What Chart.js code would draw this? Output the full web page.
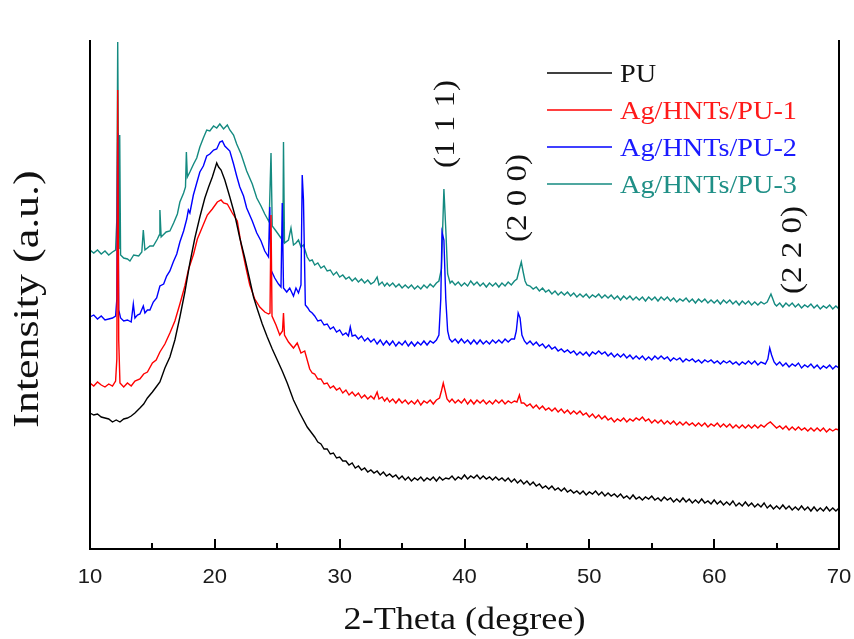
<!DOCTYPE html>
<html>
<head>
<meta charset="utf-8">
<script src="https://cdn.jsdelivr.net/npm/chart.js@4.4.1/dist/chart.umd.min.js"></script>
<style>
  html, body { margin: 0; padding: 0; background: #fff; }
</style>
</head>
<body>
<canvas id="xrd" width="854" height="639"></canvas>
<script>
// 2-theta / intensity (a.u.) pairs
const puData = [[10.0,136],[10.3,134],[10.6,135],[10.9,132],[11.2,131],[11.5,130],[11.8,127],[12.1,129],[12.4,127],[12.7,130],
  [13.0,131],[13.3,133],[13.6,136],[14.0,141],[14.3,145],[14.6,151],[15.0,157],[15.3,162],[15.6,167],[16.0,181],
  [16.4,192],[16.8,209],[17.2,232],[17.6,257],[18.0,286],[18.4,311],[18.8,332],[19.2,351],[19.5,362],[19.8,372],
  [20.0,380],[20.15,386],[20.3,382],[20.5,379],[20.8,369],[21.2,352],[21.6,334],[22.0,311],[22.4,291],[22.8,269],
  [23.1,252],[23.4,240],[23.8,225],[24.2,212],[24.6,200],[25.0,189],[25.4,178],[25.8,166],[26.3,149],[26.8,136],
  [27.4,122],[27.7,117],[28.0,112],[28.25,107],[28.5,105],[28.75,100],[29.0,100],[29.25,95],[29.5,96],[29.75,91],
  [30.0,92],[30.25,88],[30.5,88],[30.75,84],[31.0,86],[31.25,81],[31.5,83],[31.75,79],[32.0,81],[32.25,77],
  [32.5,79],[32.75,76],[33.0,78],[33.25,74],[33.5,77],[33.75,73],[34.0,75],[34.25,72],[34.5,74],[34.75,70],
  [35.0,73],[35.25,69],[35.5,72],[35.75,68],[36.0,71],[36.25,69],[36.5,72],[36.75,68],[37.0,71],[37.25,69],
  [37.5,72],[37.75,68],[38.0,72],[38.25,69],[38.5,71],[38.75,70],[39.0,73],[39.25,69],[39.5,72],[39.75,70],
  [40.0,74],[40.25,70],[40.5,73],[40.75,71],[41.0,74],[41.25,70],[41.5,73],[41.75,70],[42.0,72],[42.25,69],
  [42.5,72],[42.75,69],[43.0,71],[43.25,68],[43.5,71],[43.75,67],[44.0,70],[44.25,66],[44.5,69],[44.75,65],
  [45.0,68],[45.25,64],[45.5,67],[45.75,63],[46.0,65],[46.25,61],[46.5,63],[46.75,60],[47.0,63],[47.25,59],
  [47.5,61],[47.75,58],[48.0,61],[48.25,57],[48.5,59],[48.75,56],[49.0,58],[49.25,55],[49.5,58],[49.75,54],
  [50.0,57],[50.25,55],[50.5,58],[50.75,54],[51.0,57],[51.25,53],[51.5,56],[51.75,53],[52.0,55],[52.25,52],
  [52.5,55],[52.75,51],[53.0,53],[53.25,50],[53.5,54],[53.75,50],[54.0,52],[54.25,49],[54.5,52],[54.75,50],
  [55.0,53],[55.25,49],[55.5,51],[55.75,48],[56.0,52],[56.25,49],[56.5,51],[56.75,47],[57.0,50],[57.25,47],
  [57.5,51],[57.75,47],[58.0,50],[58.25,46],[58.5,49],[58.75,46],[59.0,50],[59.25,46],[59.5,48],[59.75,45],
  [60.0,49],[60.25,45],[60.5,48],[60.75,44],[61.0,47],[61.25,44],[61.5,48],[61.75,43],[62.0,46],[62.25,43],
  [62.5,47],[62.75,43],[63.0,46],[63.25,42],[63.5,45],[63.75,42],[64.0,46],[64.25,41],[64.5,44],[64.75,40],
  [65.0,43],[65.25,40],[65.5,44],[65.75,40],[66.0,43],[66.25,39],[66.5,42],[66.75,39],[67.0,43],[67.25,39],
  [67.5,42],[67.75,38],[68.0,42],[68.25,38],[68.5,41],[68.75,38],[69.0,42],[69.25,38],[69.5,41],[69.75,38],[70.0,41]];

const pu1Data = [[10.0,166],[10.3,163],[10.6,167],[10.9,164],[11.2,162],[11.5,165],[11.8,163],[12.05,168],[12.15,190],[12.22,459],
  [12.3,209],[12.4,166],[12.7,162],[13.0,166],[13.3,163],[13.6,168],[14.0,170],[14.3,175],[14.6,177],[15.0,186],
  [15.3,189],[15.6,197],[16.0,205],[16.4,216],[16.8,228],[17.2,245],[17.6,263],[17.9,280],[18.3,295],[18.6,310],
  [19.0,322],[19.4,334],[19.8,340],[20.2,347],[20.5,349],[20.7,346],[21.0,345],[21.4,336],[21.8,328],[22.1,305],
  [22.5,281],[22.8,264],[23.2,250],[23.6,242],[24.0,237],[24.3,235],[24.42,236],[24.5,334],[24.58,233],[24.9,224],
  [25.2,214],[25.42,218],[25.5,236],[25.58,214],[25.9,207],[26.3,201],[26.6,206],[26.9,196],[27.2,198],[27.6,180],
  [27.8,176],[28.0,175],[28.25,170],[28.5,170],[28.75,165],[29.0,166],[29.25,161],[29.5,163],[29.75,159],[30.0,161],
  [30.25,156],[30.5,159],[30.75,154],[31.0,157],[31.25,153],[31.5,156],[31.75,151],[32.0,154],[32.25,150],[32.5,153],
  [32.75,150],[33.0,157],[33.15,150],[33.4,152],[33.6,148],[33.8,151],[34.0,147],[34.25,150],[34.5,146],[34.75,150],
  [35.0,146],[35.25,149],[35.5,145],[35.75,148],[36.0,145],[36.25,149],[36.5,144],[36.75,148],[37.0,146],[37.25,149],
  [37.5,145],[37.75,149],[38.0,151],[38.15,158],[38.3,166],[38.45,158],[38.6,150],[38.8,147],[39.0,150],[39.25,146],
  [39.5,149],[39.75,146],[40.0,150],[40.25,145],[40.5,149],[40.75,145],[41.0,149],[41.25,146],[41.5,149],[41.75,145],
  [42.0,148],[42.25,145],[42.5,149],[42.75,146],[43.0,149],[43.25,145],[43.5,148],[43.75,146],[44.0,148],[44.2,147],
  [44.4,154],[44.55,146],[44.75,146],[45.0,143],[45.25,145],[45.5,141],[45.75,144],[46.0,140],[46.25,143],[46.5,139],
  [46.75,141],[47.0,138],[47.25,141],[47.5,137],[47.75,140],[48.0,136],[48.25,139],[48.5,135],[48.75,138],[49.0,135],
  [49.25,138],[49.5,134],[49.75,136],[50.0,132],[50.25,135],[50.5,131],[50.75,134],[51.0,130],[51.25,133],[51.5,129],
  [51.75,131],[52.0,127],[52.25,130],[52.5,128],[52.75,131],[53.0,127],[53.25,130],[53.5,128],[53.75,131],[54.0,129],
  [54.25,132],[54.5,128],[54.75,130],[55.0,126],[55.25,129],[55.5,126],[55.75,129],[56.0,125],[56.25,128],[56.5,125],
  [56.75,128],[57.0,124],[57.25,127],[57.5,124],[57.75,127],[58.0,124],[58.25,126],[58.5,123],[58.75,126],[59.0,123],
  [59.25,126],[59.5,122],[59.75,125],[60.0,123],[60.25,126],[60.5,122],[60.75,125],[61.0,122],[61.25,125],[61.5,121],
  [61.75,124],[62.0,121],[62.25,124],[62.5,121],[62.75,124],[63.0,121],[63.25,124],[63.5,121],[63.75,124],[64.0,122],
  [64.25,125],[64.5,127],[64.75,124],[65.0,121],[65.25,123],[65.5,120],[65.75,123],[66.0,119],[66.25,122],[66.5,119],
  [66.75,122],[67.0,119],[67.25,121],[67.5,118],[67.75,121],[68.0,118],[68.25,121],[68.5,118],[68.75,121],[69.0,117],
  [69.25,120],[69.5,118],[69.75,120],[70.0,119]];

const pu2Data = [[10.0,232],[10.3,234],[10.6,230],[10.9,233],[11.2,229],[11.5,230],[11.8,231],[12.05,233],[12.15,250],[12.22,416],
  [12.3,239],[12.45,231],[12.7,228],[13.0,229],[13.3,227],[13.47,245],[13.6,231],[13.8,234],[14.0,235],[14.27,243],
  [14.4,236],[14.6,239],[14.8,239],[15.07,247],[15.34,251],[15.6,263],[15.9,265],[16.14,273],[16.4,278],[16.67,287],
  [16.95,295],[17.2,307],[17.5,318],[17.75,330],[17.88,339],[18.0,336],[18.28,354],[18.55,366],[18.8,377],[19.08,383],
  [19.35,393],[19.6,395],[19.9,399],[20.15,400],[20.4,407],[20.6,408],[20.8,403],[21.2,398],[21.5,385],[21.75,373],
  [22.0,362],[22.3,353],[22.55,341],[23.0,328],[23.36,316],[23.7,308],[24.0,298],[24.3,292],[24.4,342],[24.5,279],
  [24.8,271],[25.1,265],[25.3,262],[25.4,346],[25.5,261],[25.76,257],[26.0,261],[26.3,253],[26.5,261],[26.7,256],
  [26.9,264],[27.0,374],[27.1,349],[27.25,244],[27.45,241],[27.6,238],[27.8,236],[28.0,233],[28.25,228],[28.5,229],
  [28.75,224],[29.0,225],[29.25,220],[29.5,222],[29.75,217],[30.0,219],[30.25,214],[30.5,216],[30.7,213],[30.85,222],
  [31.0,213],[31.25,214],[31.5,210],[31.75,213],[32.0,208],[32.25,211],[32.5,207],[32.75,210],[33.0,205],[33.25,209],
  [33.5,204],[33.75,208],[34.0,204],[34.25,208],[34.5,203],[34.75,207],[35.0,204],[35.25,208],[35.5,203],[35.75,207],
  [36.0,203],[36.25,207],[36.5,204],[36.75,208],[37.0,204],[37.25,208],[37.5,206],[37.75,209],[37.95,214],[38.1,250],
  [38.2,317],[38.35,309],[38.5,250],[38.65,218],[38.8,210],[39.0,207],[39.25,210],[39.5,206],[39.75,210],[40.0,206],
  [40.25,209],[40.5,205],[40.75,209],[41.0,205],[41.25,209],[41.5,205],[41.75,208],[42.0,205],[42.25,209],[42.5,206],
  [42.75,209],[43.0,206],[43.25,210],[43.5,207],[43.75,210],[44.0,210],[44.15,218],[44.3,236],[44.45,231],[44.6,214],
  [44.8,208],[45.0,205],[45.25,208],[45.5,204],[45.75,207],[46.0,203],[46.25,205],[46.5,201],[46.75,204],[47.0,200],
  [47.25,202],[47.5,198],[47.75,200],[48.0,197],[48.25,199],[48.5,196],[48.75,198],[49.0,194],[49.25,197],[49.5,194],
  [49.75,197],[50.0,193],[50.25,197],[50.5,195],[50.75,198],[51.0,195],[51.25,197],[51.5,193],[51.75,196],[52.0,192],
  [52.25,195],[52.5,192],[52.75,195],[53.0,191],[53.25,194],[53.5,190],[53.75,193],[54.0,190],[54.25,193],[54.5,189],
  [54.75,192],[55.0,189],[55.25,193],[55.5,190],[55.75,193],[56.0,190],[56.25,192],[56.5,188],[56.75,191],[57.0,189],
  [57.25,191],[57.5,187],[57.75,190],[58.0,188],[58.25,190],[58.5,187],[58.75,189],[59.0,186],[59.25,189],[59.5,187],
  [59.75,189],[60.0,186],[60.25,188],[60.5,185],[60.75,188],[61.0,186],[61.25,188],[61.5,185],[61.75,187],[62.0,184],
  [62.25,187],[62.5,185],[62.75,188],[63.0,185],[63.25,188],[63.5,184],[63.75,187],[64.1,185],[64.3,190],[64.45,201],
  [64.6,194],[64.8,187],[65.0,184],[65.25,187],[65.5,183],[65.75,186],[66.0,182],[66.25,185],[66.5,183],[66.75,186],
  [67.0,181],[67.25,184],[67.5,182],[67.75,185],[68.0,181],[68.25,184],[68.5,180],[68.75,183],[69.0,181],[69.25,184],
  [69.5,180],[69.75,183],[70.0,181]];

const pu3Data = [[10.0,299],[10.3,296],[10.6,299],[10.9,295],[11.2,298],[11.5,294],[11.8,297],[12.05,299],[12.15,330],[12.22,507],
  [12.32,300],[12.38,414],[12.45,294],[12.7,291],[13.0,290],[13.2,288],[13.5,294],[13.9,293],[14.15,297],[14.27,319],
  [14.4,299],[14.8,303],[15.07,303],[15.4,310],[15.55,314],[15.6,339],[15.7,312],[16.1,317],[16.4,318],[16.7,326],
  [17.0,335],[17.2,347],[17.5,356],[17.65,362],[17.72,397],[17.8,372],[18.0,377],[18.3,385],[18.55,391],[18.8,402],
  [19.08,411],[19.35,419],[19.6,418],[19.9,423],[20.15,421],[20.4,425],[20.7,420],[21.0,424],[21.2,419],[21.5,414],
  [21.75,405],[22.1,395],[22.55,378],[23.0,365],[23.36,351],[23.7,343],[24.0,335],[24.35,327],[24.5,396],[24.6,323],
  [24.9,318],[25.3,311],[25.45,308],[25.5,407],[25.58,306],[25.9,309],[26.1,321],[26.3,304],[26.5,306],[26.7,309],
  [26.9,302],[27.1,304],[27.4,292],[27.6,288],[27.8,289],[28.0,284],[28.25,286],[28.5,281],[28.75,283],[29.0,278],
  [29.25,279],[29.5,274],[29.75,277],[30.0,272],[30.25,274],[30.5,270],[30.75,272],[31.0,268],[31.25,271],[31.5,267],
  [31.75,270],[32.0,266],[32.25,269],[32.5,265],[32.75,267],[33.0,272],[33.15,264],[33.4,267],[33.6,263],[33.8,266],
  [34.0,263],[34.25,266],[34.5,262],[34.75,265],[35.0,261],[35.25,264],[35.5,261],[35.75,264],[36.0,260],[36.25,263],
  [36.5,260],[36.75,264],[37.0,261],[37.25,265],[37.5,262],[37.75,266],[37.95,268],[38.15,280],[38.35,360],[38.5,320],
  [38.65,275],[38.85,266],[39.0,268],[39.25,264],[39.5,267],[39.75,263],[40.0,266],[40.25,263],[40.5,268],[40.75,264],
  [41.0,267],[41.25,263],[41.5,266],[41.75,262],[42.0,266],[42.25,263],[42.5,266],[42.75,262],[43.0,266],[43.25,263],
  [43.5,267],[43.75,264],[44.0,268],[44.2,270],[44.4,280],[44.55,287],[44.7,277],[44.85,268],[45.0,264],[45.25,263],
  [45.5,260],[45.75,262],[46.0,258],[46.25,261],[46.5,257],[46.75,259],[47.0,255],[47.25,258],[47.5,254],[47.75,257],
  [48.0,254],[48.25,257],[48.5,253],[48.75,256],[49.0,252],[49.25,255],[49.5,252],[49.75,255],[50.0,251],[50.25,254],
  [50.5,252],[50.75,255],[51.0,251],[51.25,254],[51.5,251],[51.75,254],[52.0,250],[52.25,253],[52.5,249],[52.75,253],
  [53.0,250],[53.25,253],[53.5,249],[53.75,252],[54.0,249],[54.25,252],[54.5,248],[54.75,252],[55.0,249],[55.25,252],
  [55.5,248],[55.75,252],[56.0,249],[56.25,252],[56.5,248],[56.75,251],[57.0,247],[57.25,250],[57.5,248],[57.75,251],
  [58.0,247],[58.25,250],[58.5,246],[58.75,250],[59.0,247],[59.25,250],[59.5,246],[59.75,249],[60.0,246],[60.25,249],
  [60.5,245],[60.75,249],[61.0,246],[61.25,249],[61.5,245],[61.75,248],[62.0,244],[62.25,248],[62.5,245],[62.75,248],
  [63.0,244],[63.25,247],[63.5,244],[63.75,247],[64.0,245],[64.25,247],[64.4,251],[64.55,255],[64.7,250],[64.85,245],
  [65.0,243],[65.25,246],[65.5,242],[65.75,246],[66.0,243],[66.25,246],[66.5,242],[66.75,245],[67.0,241],[67.25,244],
  [67.5,242],[67.75,245],[68.0,241],[68.25,244],[68.5,240],[68.75,243],[69.0,241],[69.25,244],[69.5,240],[69.75,243],[70.0,240]];

const seriesNames = ['PU', 'Ag/HNTs/PU-1', 'Ag/HNTs/PU-2', 'Ag/HNTs/PU-3'];
const seriesColors = ['#000000', '#ff0000', '#0000ff', '#148a80'];
const legendColors = ['#111111', '#ff1a1a', '#1a1aff', '#1f8f86'];
const majorTicks = [10, 20, 30, 40, 50, 60, 70];
const minorTicks = [15, 25, 35, 45, 55, 65];
const peakNames = ['(1 1 1)', '(2 0 0)', '(2 2 0)'];
const peakAnchors = [[38.5, 425], [44.3, 351], [66.3, 299]]; // label centre in data units

const serif = '"Liberation Serif", "Times New Roman", serif';

// draw text widened along its own direction
function wideText(ctx, txt, x, y, sx, rot) {
  ctx.save();
  ctx.translate(x, y);
  if (rot) ctx.rotate(rot);
  ctx.scale(sx, 1);
  ctx.fillText(txt, 0, 0);
  ctx.restore();
}

const decorPlugin = {
  id: 'decor',
  afterDraw(chart) {
    const { ctx, chartArea: a, scales: { x, y } } = chart;
    ctx.save();
    ctx.strokeStyle = '#000';
    ctx.lineWidth = 2;
    ctx.beginPath();
    ctx.moveTo(a.left, a.top); ctx.lineTo(a.left, a.bottom + 1);
    ctx.moveTo(a.right, a.top); ctx.lineTo(a.right, a.bottom + 1);
    // ticks point inward
    majorTicks.forEach(v => {
      const px = Math.round(x.getPixelForValue(v));
      ctx.moveTo(px, a.bottom); ctx.lineTo(px, a.bottom - 10);
    });
    minorTicks.forEach(v => {
      const px = Math.round(x.getPixelForValue(v));
      ctx.moveTo(px, a.bottom); ctx.lineTo(px, a.bottom - 6);
    });
    ctx.stroke();

    // tick labels
    ctx.fillStyle = '#1a1a1a';
    ctx.textAlign = 'center';
    ctx.textBaseline = 'middle';
    ctx.font = '21px "Liberation Sans", Arial, sans-serif';
    majorTicks.forEach(v => {
      wideText(ctx, String(v), x.getPixelForValue(v), a.bottom + 28, 1.05, 0);
    });

    // axis titles
    ctx.fillStyle = '#111';
    ctx.textBaseline = 'alphabetic';
    ctx.font = '32px ' + serif;
    wideText(ctx, '2-Theta (degree)', (a.left + a.right) / 2, 629, 1.13, 0);
    ctx.textBaseline = 'middle';
    ctx.font = '36px ' + serif;
    wideText(ctx, 'Intensity (a.u.)', 29, 299, 1.22, -Math.PI / 2);

    // legend
    ctx.lineWidth = 1.5;
    ctx.textAlign = 'left';
    ctx.textBaseline = 'alphabetic';
    ctx.font = '25px ' + serif;
    seriesNames.forEach((name, i) => {
      const ly = 73 + i * 37;
      ctx.strokeStyle = seriesColors[i];
      ctx.beginPath();
      ctx.moveTo(547, ly); ctx.lineTo(612, ly);
      ctx.stroke();
      ctx.fillStyle = legendColors[i];
      wideText(ctx, name, 620, ly + 9, 1.13, 0);
    });

    // peak indices
    ctx.fillStyle = '#111';
    ctx.textAlign = 'center';
    ctx.textBaseline = 'middle';
    ctx.font = '30px ' + serif;
    peakNames.forEach((t, i) => {
      const px = x.getPixelForValue(peakAnchors[i][0]);
      const py = y.getPixelForValue(peakAnchors[i][1]);
      wideText(ctx, t, px, py, 1.1, -Math.PI / 2);
    });
    ctx.restore();
  }
};

const toXY = arr => arr.map(p => ({ x: p[0], y: p[1] }));
const allData = [puData, pu1Data, pu2Data, pu3Data];

new Chart(document.getElementById('xrd'), {
  type: 'line',
  data: {
    datasets: allData.map((d, i) => ({
      label: seriesNames[i],
      data: toXY(d),
      borderColor: seriesColors[i],
      borderWidth: 1.4,
      pointRadius: 0,
      tension: 0,
      fill: false
    }))
  },
  options: {
    responsive: false,
    animation: false,
    events: [],
    layout: { padding: { left: 90, right: 15, top: 40, bottom: 0 } },
    plugins: { legend: { display: false }, tooltip: { enabled: false } },
    scales: {
      x: {
        type: 'linear',
        min: 10,
        max: 70,
        afterFit: s => { s.height = 90; },
        ticks: { display: false, stepSize: 10 },
        grid: { display: false, drawTicks: false },
        border: { display: true, color: '#000', width: 2 }
      },
      y: {
        display: false,
        min: 0,
        max: 509
      }
    }
  },
  plugins: [decorPlugin]
});
</script>
</body>
</html>
